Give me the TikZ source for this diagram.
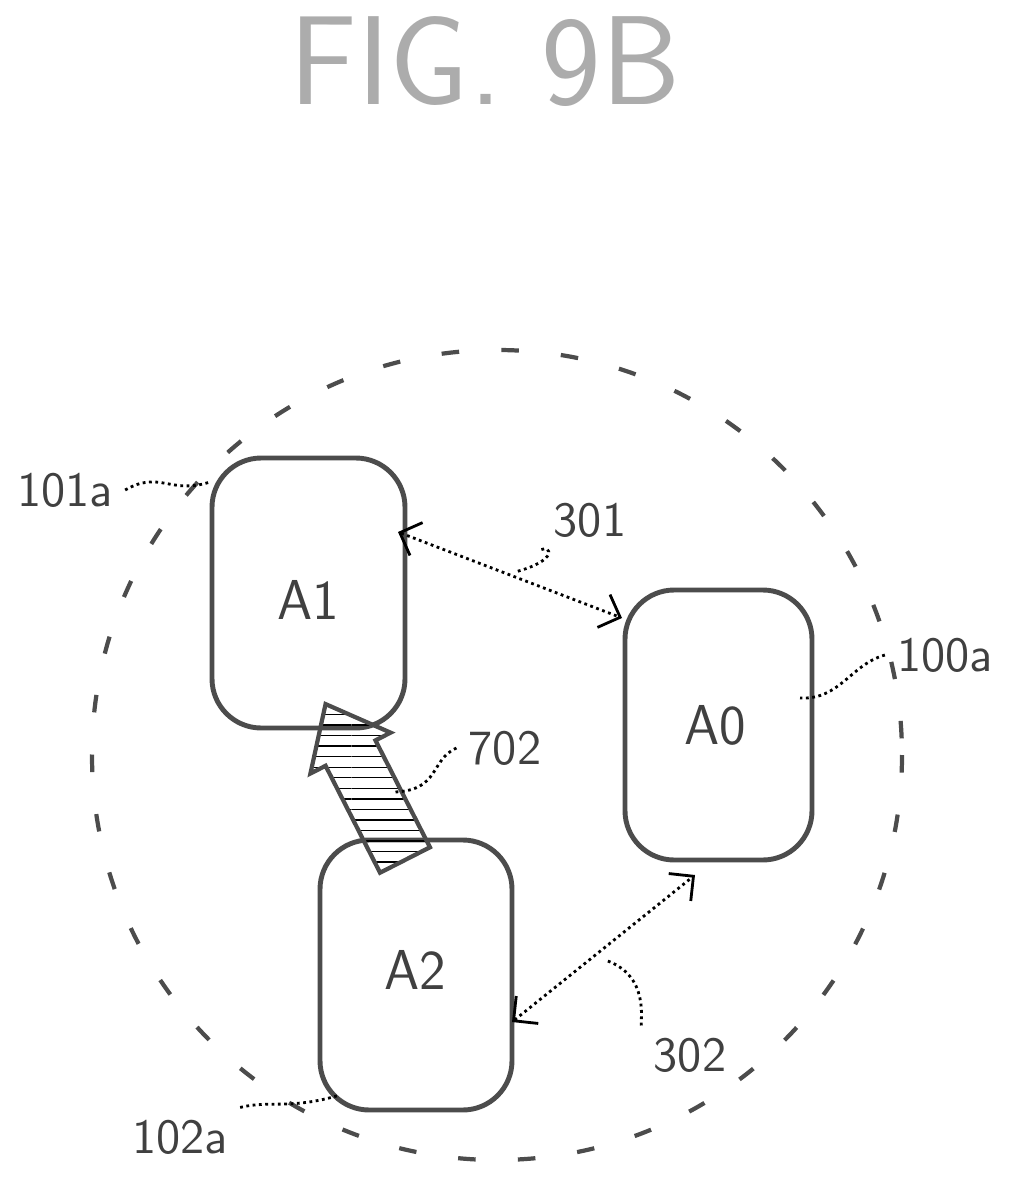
\documentclass[tikz,border=0pt]{standalone}
\usepackage{tikz}
\usetikzlibrary{arrows.meta,positioning,patterns}

\begin{document}
\begin{tikzpicture}[
    x=0.01cm, y=-0.01cm,
    unit/.style={draw, rounded corners=14pt, line width=1.4pt, gray!60!black},
    link/.style={draw, densely dotted, line width=0.8pt, {Straight Barb[length=5pt]}-{Straight Barb[length=5pt]}},
    lead/.style={draw, densely dotted, line width=0.8pt},
    lbl/.style={font=\fontsize{14}{16}\sffamily, text=gray!50!black},
    big/.style={font=\fontsize{16}{18}\sffamily, text=gray!50!black}
]
\useasboundingbox (0,0) rectangle (1017,1191);
\node[font=\fontsize{36}{40}\sffamily, text=gray!65] (title) at (485,62) {FIG. 9B};
% area circle
\draw[dash pattern=on 5pt off 12pt, line width=1.2pt, gray!60!black] (497,755) circle [radius=405];
% units
\draw[unit] (212,458) rectangle (405,728);
\draw[unit] (625,590) rectangle (812,860);
\draw[unit] (320,840) rectangle (512,1110);
\node[big] (a1) at (308,600) {A1};
\node[big] (a0) at (715,725) {A0};
\node[big] (a2) at (415,970) {A2};
\coordinate (a1r) at (398,532);
\coordinate (a0l) at (622,618);
\coordinate (a2r) at (512,1022);
\coordinate (a0b) at (695,875);
\draw[link] (a1r) -- (a0l);
\draw[link] (a2r) -- (a0b);
% fat arrow
\begin{scope}[shift={(405,860)}, rotate=117]
  \draw[line width=1.2pt, gray!60!black, fill=white, pattern=horizontal lines]
    (0,-28) -- (120,-28) -- (120,-45) -- (175,0) -- (120,45) -- (120,28) -- (0,28) -- cycle;
\end{scope}
% labels
\node[lbl] (l101) at (65,490) {101a};
\node[lbl] (l301) at (590,520) {301};
\node[lbl] (l100) at (945,655) {100a};
\node[lbl] (l702) at (505,748) {702};
\node[lbl] (l302) at (690,1055) {302};
\node[lbl] (l102) at (180,1137) {102a};
\draw[lead] (l101.east) .. controls (160,470) and (170,495) .. (210,482);
\draw[lead] (l301.south west) .. controls (550,545) and (560,560) .. (515,572);
\draw[lead] (l100.west) .. controls (850,665) and (840,700) .. (800,698);
\draw[lead] (l702.west) .. controls (430,760) and (440,790) .. (395,792);
\draw[lead] (l302.north west) .. controls (640,1020) and (650,975) .. (605,960);
\draw[lead] (l102.north east) .. controls (270,1100) and (290,1110) .. (340,1095);
\end{tikzpicture}
\end{document}
